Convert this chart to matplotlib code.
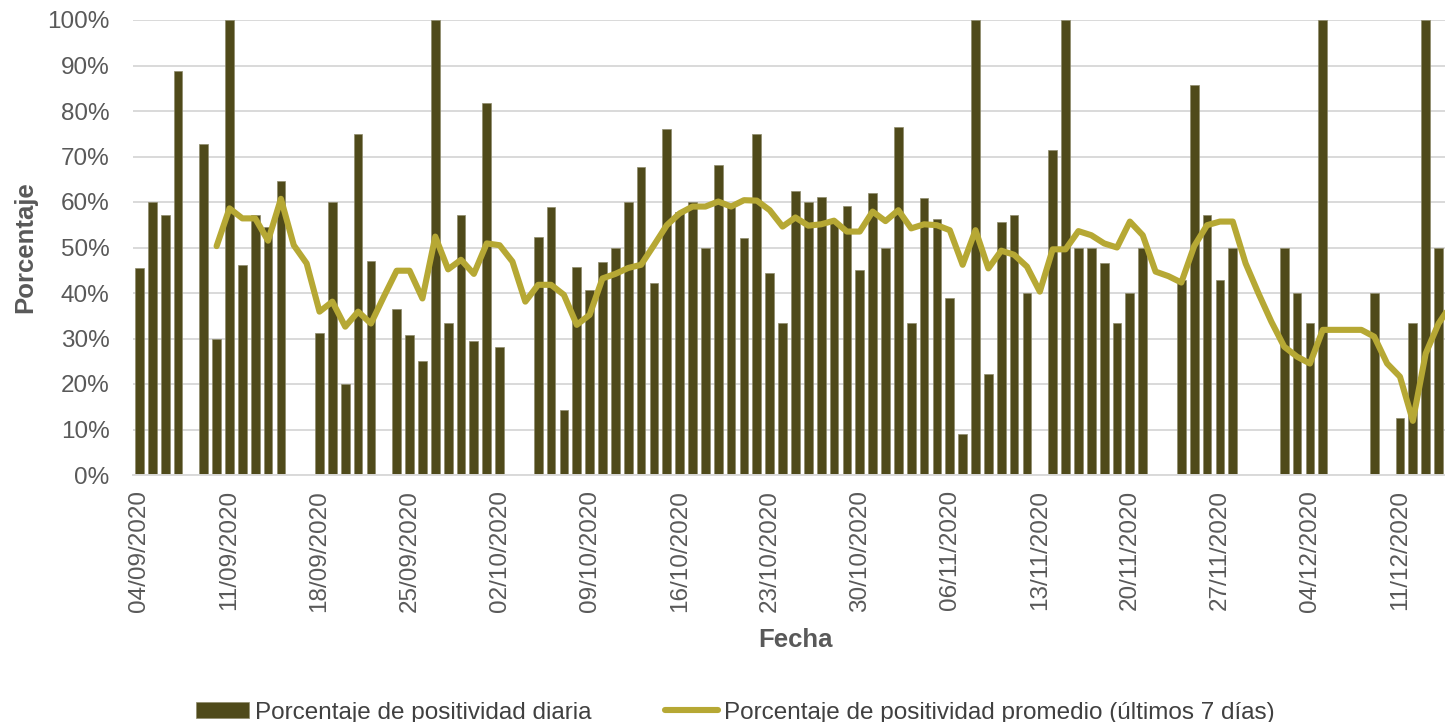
import numpy as np
import pandas as pd
import matplotlib
matplotlib.use("Agg")
import matplotlib.pyplot as plt
from matplotlib.ticker import FuncFormatter

plt.rcParams['font.family'] = ['Liberation Sans', 'DejaVu Sans']

# Daily positivity (%) from 04/09/2020; NaN = no bar that day
diaria = [45.5, 60, 57.1, 88.9, np.nan, 72.7, 30, 100, 46.2, 57.1,
          54.5, 64.7, np.nan, np.nan, 31.2, 60, 20, 75, 47.1, np.nan,
          36.4, 30.8, 25, 100, 33.3, 57.1, 29.4, 81.8, 28.2, np.nan,
          np.nan, 52.4, 58.8, 14.3, 45.8, 40.6, 46.9, 50, 60, 67.7,
          42.1, 76, 57.9, 60, 50, 68.2, 58.8, 52, 75, 44.4,
          33.3, 62.5, 60, 61.1, 55.6, 59.1, 45, 62, 50, 76.5,
          33.3, 60.9, 56.2, 38.9, 9.1, 100, 22.2, 55.6, 57.1, 40,
          np.nan, 71.4, 100, 50, 50, 46.7, 33.3, 40, 50, np.nan,
          np.nan, 42.9, 85.7, 57.1, 42.9, 50, np.nan, np.nan, np.nan, 50,
          40, 33.3, 100, np.nan, np.nan, np.nan, 40, np.nan, 12.5, 33.3,
          100, 50, np.nan]

# 7-day average positivity (%)
promedio = [np.nan, np.nan, np.nan, np.nan, np.nan, np.nan, 50.3, 58.6, 56.4, 56.4,
            51.5, 60.7, 50.5, 46.5, 35.9, 38.1, 32.6, 35.9, 33.3, 39.2,
            44.9, 44.9, 38.8, 52.4, 45.2, 47.3, 44.2, 50.9, 50.5, 46.9,
            38.1, 41.8, 41.8, 39.6, 33.0, 35.2, 43.2, 44.2, 45.5, 46.2,
            50.5, 54.9, 57.5, 59.0, 59.0, 60.1, 59.0, 60.4, 60.3, 58.2,
            54.6, 56.6, 54.8, 55.1, 55.9, 53.5, 53.5, 57.9, 55.8, 58.2,
            54.2, 55.1, 54.9, 53.8, 46.2, 53.8, 45.4, 49.3, 48.4, 45.8,
            40.3, 49.6, 49.6, 53.6, 52.7, 50.9, 50.0, 55.7, 52.7, 44.7,
            43.7, 42.3, 50.3, 54.9, 55.7, 55.7, 46.5, 39.9, 33.7, 28.2,
            26.0, 24.5, 31.9, 31.9, 31.9, 31.9, 30.4, 24.5, 21.6, 11.9,
            26.7, 33.3, 37.5]

fechas = pd.date_range('2020-09-04', periods=len(diaria), freq='D')
etiquetas = [d.strftime('%d/%m/%Y') for d in fechas]

bar_color = '#4F4A1A'
line_color = '#B6A834'
text_color = '#595959'
grid_color = '#D9D9D9'

fig = plt.figure(figsize=(14.45, 7.22), dpi=100)
ax = fig.add_axes([133 / 1445, 1 - 475 / 722, 1312 / 1445, 455 / 722])

x = np.arange(len(diaria))
bars = ax.bar(x, diaria, width=0.68, color=bar_color, edgecolor='#8E8B6C',
              linewidth=0.5, zorder=2, label='Porcentaje de positividad diaria')
line, = ax.plot(x, promedio, color=line_color, linewidth=4.4, zorder=3,
                solid_capstyle='round', solid_joinstyle='round',
                label='Porcentaje de positividad promedio (últimos 7 días)')

ax.set_xlim(-0.5, 101.5)
ax.set_ylim(0, 100)
ax.set_yticks(np.arange(0, 101, 10))
ax.yaxis.set_major_formatter(FuncFormatter(lambda v, p: f'{v:.0f}%'))
ax.set_xticks(x[::7])
ax.set_xticklabels(etiquetas[::7], rotation=90)

ax.tick_params(axis='both', length=0, labelsize=17.5, colors=text_color)
ax.tick_params(axis='y', pad=17)
ax.tick_params(axis='x', pad=11)

ax.grid(axis='y', color=grid_color, linewidth=1.4, zorder=0)
ax.set_axisbelow(True)
for s in ['top', 'right', 'left']:
    ax.spines[s].set_visible(False)
ax.spines['bottom'].set_color(grid_color)
ax.spines['bottom'].set_linewidth(1.4)

ax.set_xlabel('Fecha', fontsize=18.5, fontweight='bold', color=text_color)
ax.xaxis.set_label_coords(0.5046, -0.363)
ax.xaxis.label.set_va('center')
ax.set_ylabel('Porcentaje', fontsize=18.5, fontweight='bold', color=text_color)
ax.yaxis.set_label_coords(-0.0823, 0.5)
ax.yaxis.label.set_va('center')

leg = fig.legend(handles=[bars, line], loc='center', bbox_to_anchor=(0.509, 0.013),
                 ncol=2, frameon=False, fontsize=17.5, handlelength=2.2,
                 handleheight=0.6, handletextpad=0.25, columnspacing=3.0)
for t in leg.get_texts():
    t.set_color('#404040')

fig.savefig('out.png', dpi=100)
